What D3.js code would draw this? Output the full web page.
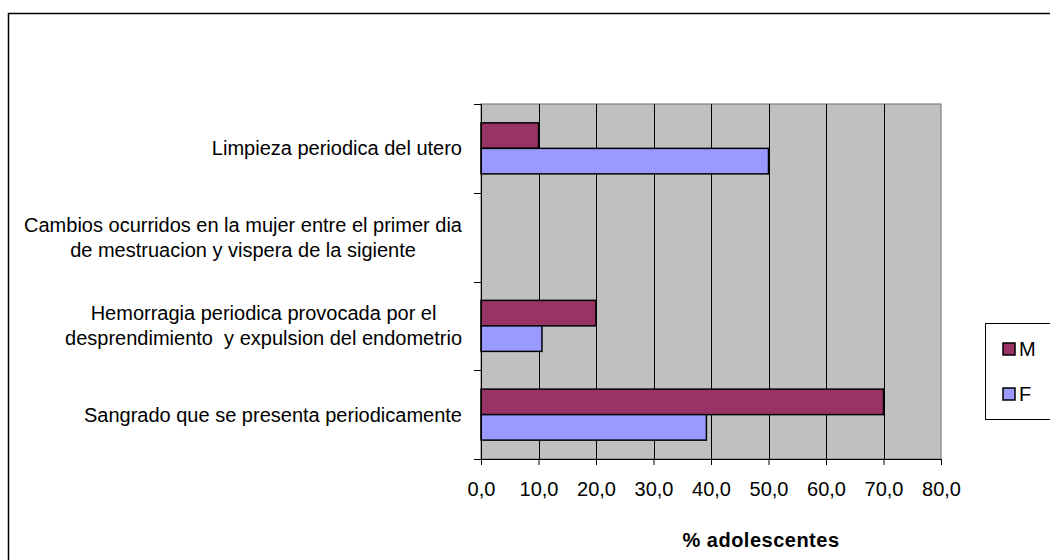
<!DOCTYPE html>
<html><head><meta charset="utf-8">
<script src="https://cdn.jsdelivr.net/npm/d3@7"></script>
<style>body{margin:0;background:#fff}svg{display:block;font-family:"Liberation Sans",Arial,sans-serif}text{white-space:pre}</style>
</head><body><svg id="c" width="1050" height="560"></svg>
<script>
const categories = [
  ["Limpieza periodica del utero"],
  ["Cambios ocurridos en la mujer entre el primer dia", "de mestruacion y vispera de la sigiente"],
  ["Hemorragia periodica provocada por el", "desprendimiento  y expulsion del endometrio"],
  ["Sangrado que se presenta periodicamente"]
];
const seriesNames = ["M", "F"];
const valuesM = [10, 0, 20, 70];
const valuesF = [50, 0, 10.6, 39.2];
const xTicks = [0, 10, 20, 30, 40, 50, 60, 70, 80];
const xTitle = "% adolescentes";
const colors = {M: "#993366", F: "#9999FF"};

const svg = d3.select("#c");
const L = 481, R = 941, T = 104, B = 459;
const FS = 20;
const x = d3.scaleLinear().domain([0, 80]).range([L, R]);
const y = d3.scaleBand().domain(d3.range(categories.length)).range([T, B]).padding(0);
const ys = d3.scaleBand().domain(seriesNames).range([0, y.bandwidth()]).paddingInner(0).paddingOuter(0.74);

// outer frame
svg.append("rect").attr("x", 8.5).attr("y", 13.5).attr("width", 1100).attr("height", 600)
  .attr("fill", "#fff").attr("stroke", "#000").attr("stroke-width", 1.5);

// plot area
svg.append("rect").attr("x", L).attr("y", T).attr("width", R - L).attr("height", B - T)
  .attr("fill", "#C0C0C0").attr("stroke", "#808080").attr("stroke-width", 1.2);

// gridlines
svg.append("g").selectAll("line").data(xTicks.slice(1, -1)).join("line")
  .attr("x1", d => Math.round(x(d)) + 0.5).attr("x2", d => Math.round(x(d)) + 0.5)
  .attr("y1", T).attr("y2", B).attr("stroke", "#000").attr("stroke-width", 1);

// bars
const data = [];
categories.forEach((c, i) => {
  data.push({i, s: "M", v: valuesM[i]});
  data.push({i, s: "F", v: valuesF[i]});
});
svg.append("g").selectAll("rect").data(data.filter(d => d.v > 0)).join("rect")
  .attr("x", x(0)).attr("y", d => y(d.i) + ys(d.s))
  .attr("width", d => x(d.v) - x(0)).attr("height", ys.bandwidth())
  .attr("fill", d => colors[d.s]).attr("stroke", "#000").attr("stroke-width", 1.5);

// x axis
const xAxis = d3.axisBottom(x).tickValues(xTicks).tickSize(6).tickPadding(17)
  .tickFormat(d => d3.format(".1f")(d).replace(".", ","));
const gx = svg.append("g").attr("transform", `translate(0,${B})`).call(xAxis);
gx.select(".domain").attr("d", `M${L - 7},0.5H${R}`).attr("stroke", "#000");
gx.selectAll(".tick line").attr("stroke", "#000");
gx.selectAll("text").attr("font-size", FS)
  .attr("font-family", "Liberation Sans, Arial, sans-serif").attr("fill", "#000");

// y axis ticks at category boundaries
const bounds = d3.range(categories.length + 1).map(i => T + i * y.step());
svg.append("line").attr("x1", L + 0.5).attr("x2", L + 0.5).attr("y1", T).attr("y2", B).attr("stroke", "#000");
svg.append("g").selectAll("line").data(bounds).join("line")
  .attr("x1", L - 7).attr("x2", L).attr("y1", d => Math.round(d) + 0.5).attr("y2", d => Math.round(d) + 0.5)
  .attr("stroke", "#000");

// category labels
const lab = svg.append("g").attr("font-size", FS).attr("fill", "#000");
categories.forEach((lines, i) => {
  const cy = y(i) + y.bandwidth() / 2;
  const g = lab.append("g");
  const lh = 25;
  const texts = lines.map((t, k) => g.append("text")
    .attr("y", cy + (k - (lines.length - 1) / 2) * lh)
    .attr("dy", "0.35em").attr("text-anchor", "middle").text(t));
  const maxW = d3.max(texts, t => t.node().getComputedTextLength());
  texts.forEach(t => t.attr("x", 462 - maxW / 2));
});

// axis title
svg.append("text").attr("x", 761).attr("y", 540).attr("dy", "0.35em").attr("text-anchor", "middle")
  .attr("font-size", FS).attr("font-weight", "bold").attr("letter-spacing", "0.5px").text(xTitle);

// legend
svg.append("rect").attr("x", 985.5).attr("y", 323.5).attr("width", 100).attr("height", 96)
  .attr("fill", "#fff").attr("stroke", "#000").attr("stroke-width", 1);
const lg = svg.append("g").selectAll("g").data(seriesNames).join("g")
  .attr("transform", (d, i) => `translate(1003,${349 + i * 45})`);
lg.append("rect").attr("x", 0).attr("y", -6).attr("width", 12).attr("height", 12)
  .attr("fill", d => colors[d]).attr("stroke", "#000").attr("stroke-width", 1.5);
lg.append("text").attr("x", 16).attr("dy", "0.36em").attr("font-size", FS).text(d => d);
</script></body></html>
